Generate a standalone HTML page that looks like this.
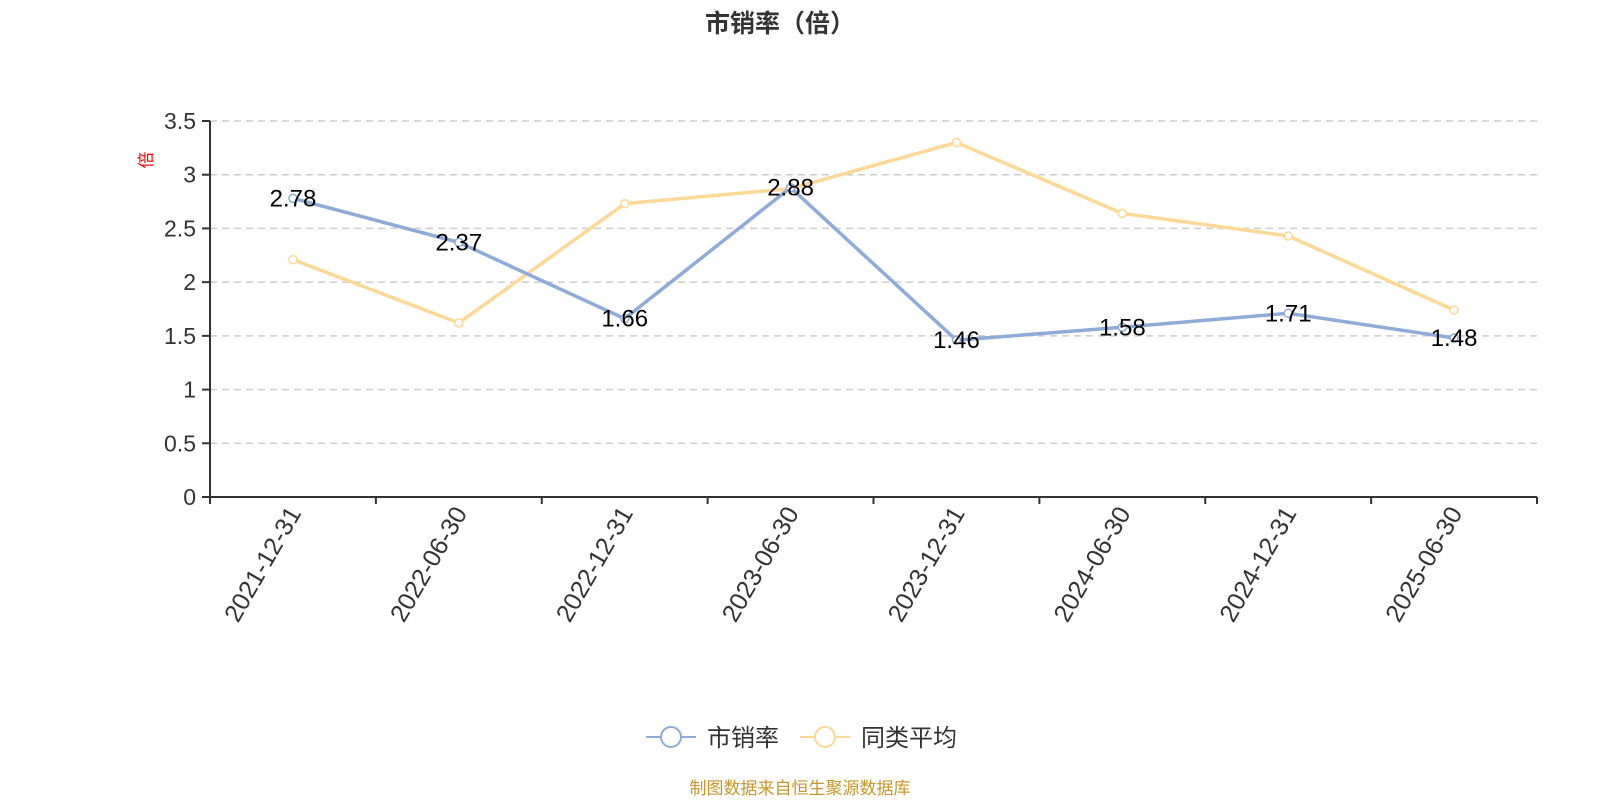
<!DOCTYPE html>
<html><head><meta charset="utf-8"><style>
body{margin:0;background:#fff;}
svg text{font-family:"Liberation Sans","Noto Sans CJK SC",sans-serif;}
</style></head><body>
<svg width="1600" height="800" xmlns="http://www.w3.org/2000/svg">
<text x="780" y="32" text-anchor="middle" font-size="25" font-weight="bold" fill="#333">市销率（倍）</text>
<g id="grid"></g>
<g id="axes"></g>
<text transform="translate(152,160) rotate(-90)" text-anchor="middle" font-size="17" fill="red">倍</text>
<g id="series"></g>
<g>
<g>
<line x1="646" y1="737" x2="696" y2="737" stroke="#8eabd9" stroke-width="2"/>
<circle cx="671" cy="737" r="10" fill="#fff" stroke="#8eabd9" stroke-width="2"/>
<text x="707" y="746" font-size="24" fill="#333">市销率</text></g>
<g>
<line x1="800" y1="737" x2="850" y2="737" stroke="#fdd896" stroke-width="2"/>
<circle cx="825" cy="737" r="10" fill="#fff" stroke="#fdd896" stroke-width="2"/>
<text x="861" y="746" font-size="24" fill="#333">同类平均</text></g>
</g>
<text x="800" y="794" text-anchor="middle" font-size="17" fill="#c8962a">制图数据来自恒生聚源数据库</text>
</svg>
<script>
const categories=["2021-12-31","2022-06-30","2022-12-31","2023-06-30","2023-12-31","2024-06-30","2024-12-31","2025-06-30"];
const psrValues=[2.78,2.37,1.66,2.88,1.46,1.58,1.71,1.48];
const avgValues=[2.21,1.62,2.73,2.87,3.30,2.64,2.43,1.74];
const yTicks=[0,0.5,1,1.5,2,2.5,3,3.5];
const NS="http://www.w3.org/2000/svg";
const X0=210,X1=1537,Y0=497,Y1=121,YMAX=3.5;
const bw=(X1-X0)/categories.length;
const xs=i=>X0+bw*(i+0.5);
const ys=v=>Y0-(v/YMAX)*(Y0-Y1);
function mk(tag,attrs,parent){const e=document.createElementNS(NS,tag);for(const k in attrs)e.setAttribute(k,attrs[k]);parent.appendChild(e);return e;}
const grid=document.getElementById('grid'),axes=document.getElementById('axes'),series=document.getElementById('series');
yTicks.forEach(t=>{
 const y=ys(t);
 if(t>0){const l=mk('line',{x1:X0,x2:X1,y1:y,y2:y,stroke:'#ccc','stroke-width':1.5,'stroke-dasharray':'7,5'},grid);
 
 }
 mk('line',{x1:X0-8,x2:X0,y1:y,y2:y,stroke:'#333','stroke-width':2},axes);
 const tx=mk('text',{x:X0-14,y:y+8,'text-anchor':'end','font-size':23,fill:'#333'},axes);
 tx.textContent=t;
 
 
});
mk('line',{x1:X0,x2:X0,y1:Y1,y2:Y0,stroke:'#333','stroke-width':2},axes);
mk('line',{x1:X0,x2:X1,y1:Y0,y2:Y0,stroke:'#333','stroke-width':2},axes);
for(let i=0;i<=categories.length;i++){const x=X0+bw*i;mk('line',{x1:x,x2:x,y1:Y0,y2:Y0+7,stroke:'#333','stroke-width':2},axes);}
categories.forEach((c,i)=>{
 const t=mk('text',{transform:`translate(${xs(i)+9},${Y0+16}) rotate(-60)`,'text-anchor':'end','font-size':25,fill:'#333'},axes);
 t.textContent=c;
 
 
});
function drawSeries(vals,color,name,labels){
 const p=mk('polyline',{points:vals.map((v,i)=>xs(i)+','+ys(v)).join(' '),fill:'none',stroke:color,'stroke-width':3.5},series);
 
 
 vals.forEach((v,i)=>{
  const c=mk('circle',{cx:xs(i),cy:ys(v),r:4,fill:'#fff',stroke:color,'stroke-width':1.5},series);
  
  
  if(labels){const t=mk('text',{x:xs(i),y:ys(v)+8,'text-anchor':'middle','font-size':24,fill:'#000'},series);
  t.textContent=v.toFixed(2);
  
  }
 });
}
drawSeries(avgValues,'#fdd896','peer-average',false);
drawSeries(psrValues,'#8eabd9','psr',true);
</script>
</body></html>
